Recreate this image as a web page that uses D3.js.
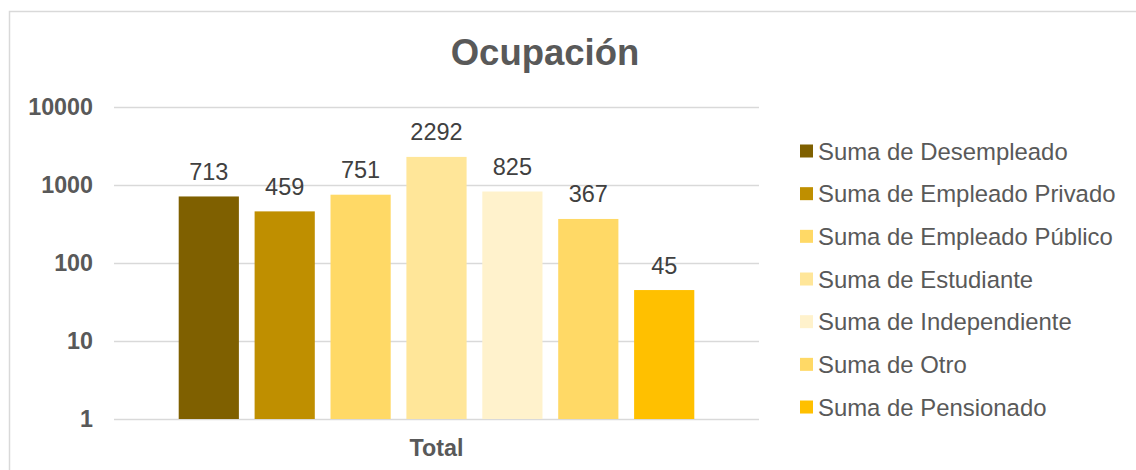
<!DOCTYPE html>
<html>
<head>
<meta charset="utf-8">
<script src="https://cdn.jsdelivr.net/npm/d3@7"></script>
<style>
  html, body { margin: 0; padding: 0; background: #fff; }
  svg { display: block; }
</style>
</head>
<body>
<svg id="chart"></svg>
<script>
// datos del gráfico
const categories = ["Total"];
const seriesNames = [
  "Suma de Desempleado",
  "Suma de Empleado Privado",
  "Suma de Empleado Público",
  "Suma de Estudiante",
  "Suma de Independiente",
  "Suma de Otro",
  "Suma de Pensionado"
];
const seriesValues = [713, 459, 751, 2292, 825, 367, 45];
const seriesColors = ["#7F6000", "#BF8F00", "#FFD966", "#FFE699", "#FFF2CC", "#FFD966", "#FFC000"];
const yTicks = [1, 10, 100, 1000, 10000];

const width = 1136, height = 470;
const plot = { left: 114, right: 759, top: 107, bottom: 419 };

const svg = d3.select('#chart')
  .attr('width', width)
  .attr('height', height);

// borde del área del gráfico
svg.append('rect')
  .attr('x', 9.5).attr('y', 11.5)
  .attr('width', width + 10).attr('height', height + 10)
  .attr('fill', 'none')
  .attr('stroke', '#D9D9D9')
  .attr('stroke-width', 1.5);

// título
svg.append('text')
  .attr('x', 545).attr('y', 65)
  .attr('text-anchor', 'middle')
  .style('font-family', '"Liberation Sans", Arial, sans-serif')
  .style('font-size', '36.5px')
  .style('font-weight', 'bold')
  .style('fill', '#595959')
  .text('Ocupación');

const y = d3.scaleLog()
  .domain([1, 10000])
  .range([plot.bottom, plot.top]);

const x0 = d3.scaleBand()
  .domain(categories)
  .range([plot.left, plot.right])
  .padding(0.1115);

const x1 = d3.scaleBand()
  .domain(seriesNames)
  .range([0, x0.bandwidth()])
  .paddingInner(0.207)
  .paddingOuter(0);

// líneas de cuadrícula y etiquetas del eje Y
const yAxis = svg.append('g')
  .attr('transform', `translate(${plot.left},0)`)
  .call(d3.axisLeft(y)
    .tickValues(yTicks)
    .tickFormat(d3.format('d'))
    .tickSize(-(plot.right - plot.left))
    .tickPadding(21));
yAxis.select('.domain').remove();
yAxis.selectAll('.tick line')
  .attr('stroke', '#D9D9D9')
  .attr('stroke-width', 1.5);
yAxis.selectAll('.tick text')
  .style('font-family', '"Liberation Sans", Arial, sans-serif')
  .style('font-size', '23.3px')
  .style('font-weight', 'bold')
  .style('fill', '#595959');

// eje X
const xAxis = svg.append('g')
  .attr('transform', `translate(0,${plot.bottom})`)
  .call(d3.axisBottom(x0).tickSize(0).tickPadding(20));
xAxis.select('.domain').remove();
xAxis.selectAll('.tick text')
  .attr('dy', '0.71em')
  .style('font-family', '"Liberation Sans", Arial, sans-serif')
  .style('font-size', '23.3px')
  .style('font-weight', 'bold')
  .style('fill', '#595959');

// barras
const groups = svg.selectAll('.cat')
  .data(categories)
  .enter()
  .append('g')
  .attr('class', 'cat')
  .attr('transform', d => `translate(${x0(d)},0)`);

const rows = seriesNames.map((name, i) => ({ name, value: seriesValues[i], color: seriesColors[i] }));

groups.selectAll('rect')
  .data(rows)
  .enter()
  .append('rect')
  .attr('x', d => x1(d.name))
  .attr('y', d => y(d.value))
  .attr('width', x1.bandwidth())
  .attr('height', d => y(1) - y(d.value))
  .attr('fill', d => d.color);

groups.selectAll('text.val')
  .data(rows)
  .enter()
  .append('text')
  .attr('class', 'val')
  .attr('x', d => x1(d.name) + x1.bandwidth() / 2)
  .attr('y', d => y(d.value) - 16.5)
  .attr('text-anchor', 'middle')
  .style('font-family', '"Liberation Sans", Arial, sans-serif')
  .style('font-size', '23.5px')
  .style('fill', '#404040')
  .text(d => d.value);

// leyenda
const legend = svg.append('g')
  .attr('transform', 'translate(800,151)');

const items = legend.selectAll('g')
  .data(rows)
  .enter()
  .append('g')
  .attr('transform', (d, i) => `translate(0,${i * 42.67})`);

items.append('rect')
  .attr('x', 0).attr('y', -6.5)
  .attr('width', 13).attr('height', 13)
  .attr('fill', d => d.color);

items.append('text')
  .attr('x', 18).attr('y', 0)
  .attr('dy', '0.36em')
  .style('font-family', '"Liberation Sans", Arial, sans-serif')
  .style('font-size', '23.9px')
  .style('fill', '#595959')
  .text(d => d.name);
</script>
</body>
</html>
